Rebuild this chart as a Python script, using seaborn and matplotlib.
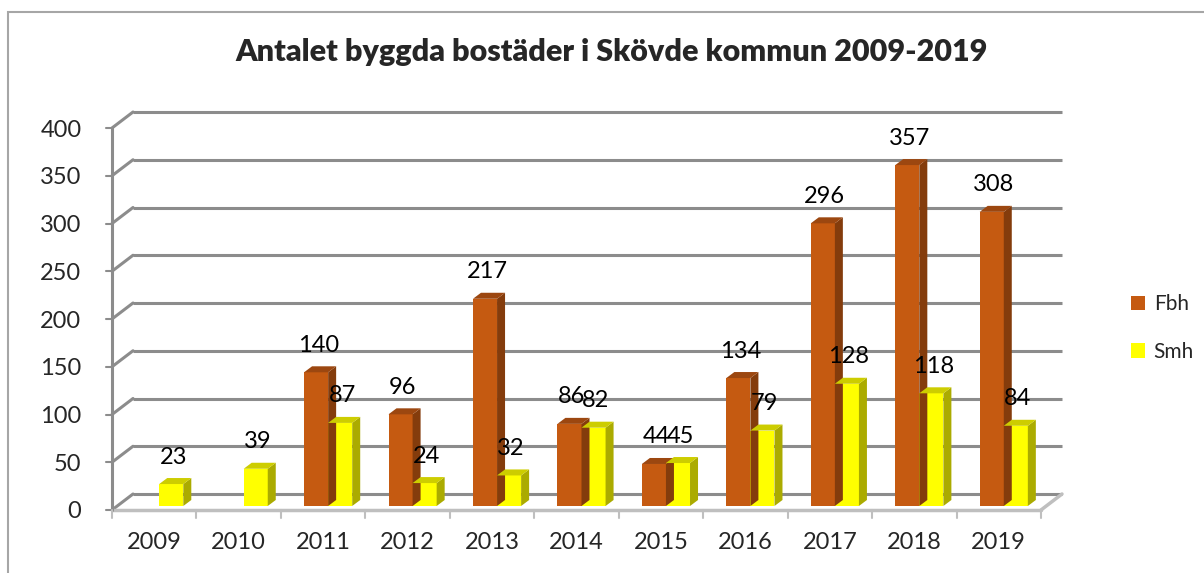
import numpy as np
import pandas as pd
import matplotlib
matplotlib.use("Agg")
import matplotlib.pyplot as plt
import seaborn as sns
from matplotlib.patches import Polygon, Rectangle, Patch

# Data: built homes in Skövde municipality
years = ['2009', '2010', '2011', '2012', '2013', '2014', '2015', '2016', '2017', '2018', '2019']
fbh = [0, 0, 140, 96, 217, 86, 44, 134, 296, 357, 308]
smh = [23, 39, 87, 24, 32, 82, 45, 79, 128, 118, 84]
series = ['Fbh', 'Smh']
yticks = [0, 50, 100, 150, 200, 250, 300, 350, 400]

title = 'Antalet byggda bostäder i Skövde kommun 2009-2019'

front_colors = {'Fbh': '#C55A11', 'Smh': '#FFFF00'}
side_colors = {'Fbh': '#843C0C', 'Smh': '#ABAB00'}
top_colors = {'Fbh': '#9C4710', 'Smh': '#CDCD00'}
grid_color = '#8C8C8C'

df = pd.DataFrame({
    'year': years * 2,
    'value': fbh + smh,
    'type': ['Fbh'] * len(years) + ['Smh'] * len(years),
})

sns.set_style('white')
plt.rcParams['font.family'] = ['Lato', 'DejaVu Sans']

W, H = 1204, 573
fig = plt.figure(figsize=(W / 100, H / 100), dpi=100)

# axes box = front plane of the 3D plot
ax_l, ax_r, ax_b, ax_t = 112, 1041, 510, 128
ax = fig.add_axes([ax_l / W, (H - ax_b) / H, (ax_r - ax_l) / W, (ax_b - ax_t) / H])

sns.barplot(data=df, x='year', y='value', hue='type', palette=front_colors,
            saturation=1, width=0.57, dodge=True, linewidth=0, ax=ax,
            legend=False, zorder=3)
ax.set_xlim(-0.5, len(years) - 0.5)
ax.set_ylim(0, 400)

# pixel -> data conversions
px_x = (len(years)) / (ax_r - ax_l)
px_y = 400 / (ax_b - ax_t)

# back wall depth
wall_dx, wall_dy = 21 * px_x, 16 * px_y
x0, x1 = -0.5, len(years) - 0.5
for v in yticks:
    ax.plot([x0 + wall_dx, x1 + wall_dx], [v + wall_dy, v + wall_dy],
            color=grid_color, lw=2.2, clip_on=False, zorder=1, solid_capstyle='butt')
    ax.plot([x0, x0 + wall_dx], [v, v + wall_dy], color=grid_color, lw=2.2,
            clip_on=False, zorder=1)
    ax.plot([x0 - 6 * px_x, x0], [v, v], color=grid_color, lw=1.5, clip_on=False, zorder=1)
# front floor edge, left axis, right floor edge
ax.plot([x0, x1], [0, 0], color='#BFBFBF', lw=2.5, clip_on=False, zorder=2)
ax.plot([x0, x0], [0, 400], color=grid_color, lw=2.2, clip_on=False, zorder=2)
ax.plot([x1, x1 + wall_dx], [0, wall_dy], color='#BFBFBF', lw=2.5, clip_on=False, zorder=2)
for k in range(len(years) + 1):
    ax.plot([x0 + k, x0 + k], [0, -8 * px_y], color='#BFBFBF', lw=1.5, clip_on=False, zorder=2)

# 3D bars: shift bars into the middle depth and add side/top faces
shift_x, shift_y = 5 * px_x, 4 * px_y
bar_dx, bar_dy = 8 * px_x, 6 * px_y
for name, cont in zip(series, ax.containers):
    for bar in cont:
        h = bar.get_height()
        bar.set_x(bar.get_x() + shift_x)
        bar.set_y(bar.get_y() + shift_y)
        if h <= 0:
            bar.set_visible(False)
            continue
        bx, bw, by = bar.get_x(), bar.get_width(), bar.get_y()
        side = Polygon([(bx + bw, by), (bx + bw + bar_dx, by + bar_dy),
                        (bx + bw + bar_dx, by + h + bar_dy), (bx + bw, by + h)],
                       closed=True, facecolor=side_colors[name], edgecolor='none',
                       zorder=3, clip_on=False)
        top = Polygon([(bx, by + h), (bx + bar_dx, by + h + bar_dy),
                       (bx + bw + bar_dx, by + h + bar_dy), (bx + bw, by + h)],
                      closed=True, facecolor=top_colors[name], edgecolor='none',
                      zorder=3, clip_on=False)
        ax.add_patch(side)
        ax.add_patch(top)
        ax.text(bx + bw / 2 + 2 * px_x, by + h + 27 * px_y, f'{int(h)}',
                ha='center', va='center', fontsize=17, color='black', zorder=5,
                clip_on=False)

# axes text
ax.set_xlabel('')
ax.set_ylabel('')
ax.set_yticks(yticks)
ax.set_yticklabels([str(v) for v in yticks], fontsize=17)
ax.set_xticks(range(len(years)))
ax.set_xticklabels(years, fontsize=17)
ax.tick_params(axis='y', length=0, pad=22)
ax.tick_params(axis='x', length=0, pad=16)
for s in ax.spines.values():
    s.set_visible(False)
ax.set_facecolor('none')

fig.text(612 / W, 1 - 52 / H, title, ha='center', va='center',
         fontsize=22, fontweight='heavy')

handles = [Patch(facecolor=front_colors[s], edgecolor='none', label=s) for s in series]
fig.legend(handles=handles, loc='center left', bbox_to_anchor=(1112 / W, 1 - 328 / H),
           frameon=False, fontsize=15, handlelength=0.7, handleheight=0.7,
           handletextpad=0.4, labelspacing=1.3)

# outer chart border
fig.add_artist(Rectangle((8 / W, -0.05), 1.2, (H - 12) / H + 0.05,
                         transform=fig.transFigure, fill=False,
                         edgecolor='#A6A6A6', lw=1.5))

fig.savefig('out.png', dpi=100)
